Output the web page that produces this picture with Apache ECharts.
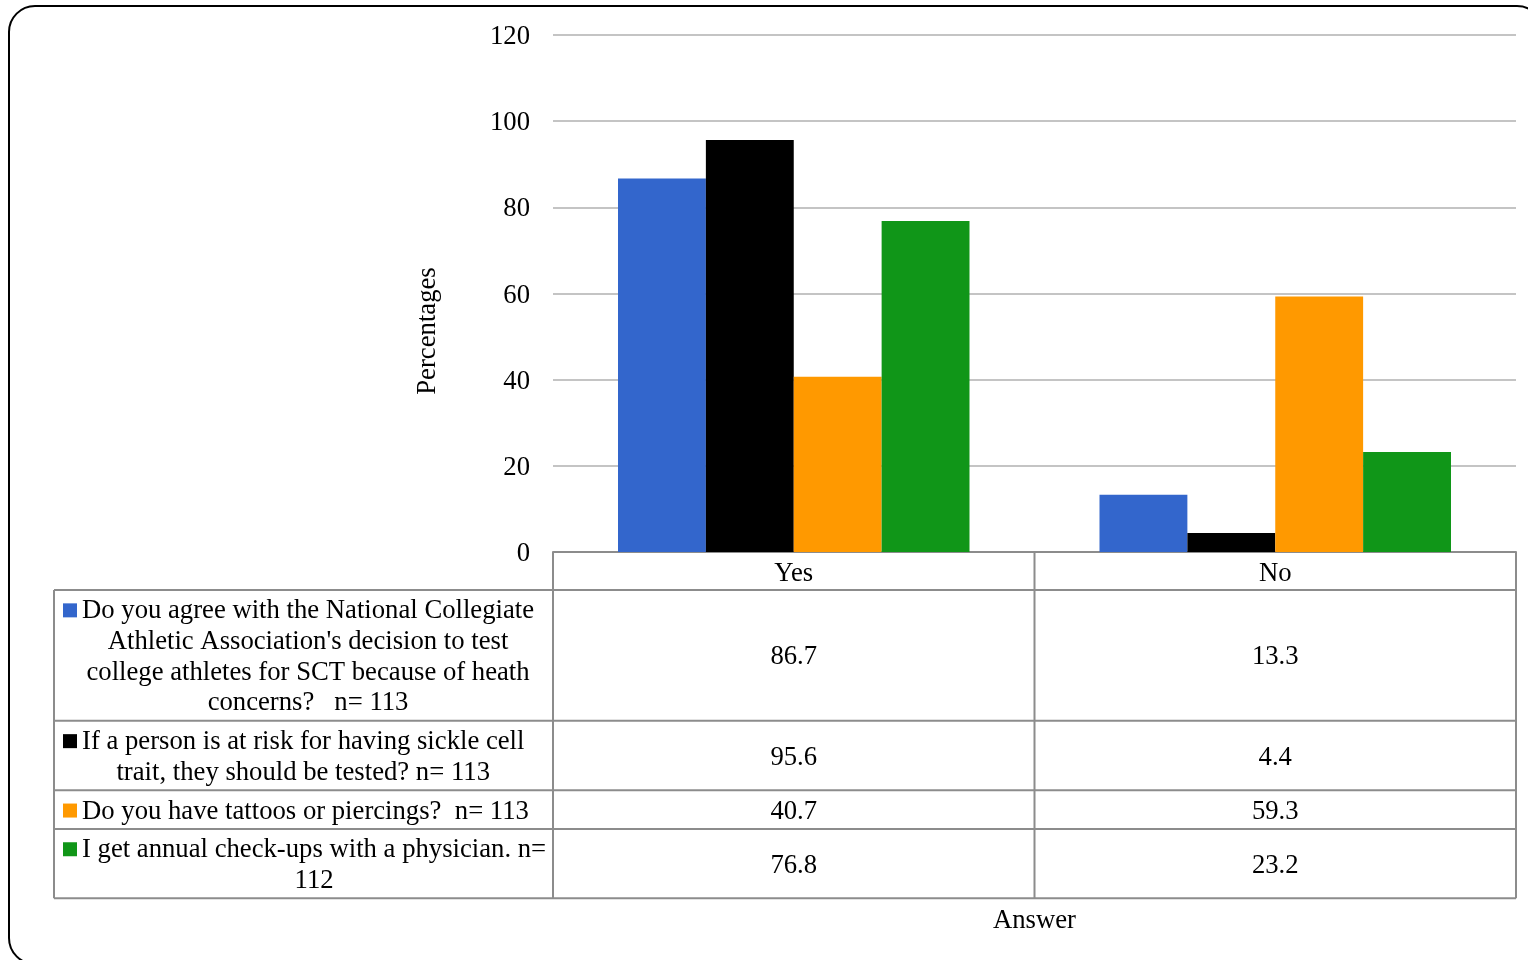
<!DOCTYPE html>
<html>
<head>
<meta charset="utf-8">
<style>
  html, body { margin: 0; padding: 0; background: #fff; }
  #chart { width: 1528px; height: 960px; }
</style>
<script src="https://cdn.jsdelivr.net/npm/echarts@6/dist/echarts.min.js"></script>
</head>
<body>
<div id="chart"></div>
<script>
// Answer categories
const categories = ['Yes', 'No'];

// Survey questions, one per series, split into the lines shown in the data table
const questionLines = [
  ['Do you agree with the National Collegiate', "Athletic Association's decision to test", 'college athletes for SCT because of heath', 'concerns?   n= 113'],
  ['If a person is at risk for having sickle cell', 'trait, they should be tested? n= 113'],
  ['Do you have tattoos or piercings?  n= 113'],
  ['I get annual check-ups with a physician. n=', '112']
];

// Percentages per answer (Yes, No)
const agreeNcaaTesting = [86.7, 13.3];
const testIfAtRisk = [95.6, 4.4];
const tattoosPiercings = [40.7, 59.3];
const annualCheckups = [76.8, 23.2];

// Value axis ticks
const yMin = 0;
const yMax = 120;
const yStep = 20;

const seriesValues = [agreeNcaaTesting, testIfAtRisk, tattoosPiercings, annualCheckups];
const palette = ['#3366CC', '#000000', '#FF9900', '#109618'];

const FONT = '"Liberation Serif", "Times New Roman", serif';
const FS = 26.7;
const TABLE_LINE = '#8c8c8c';
const TEXT_DY = 2; // nudge for the serif font's optical centre

const chart = echarts.init(document.getElementById('chart'), null, { renderer: 'canvas' });

const option = {
  backgroundColor: '#ffffff',
  animation: false,
  grid: { left: 553, right: 12, top: 35, bottom: 408, containLabel: false },
  xAxis: {
    type: 'category',
    data: categories,
    axisTick: { show: false },
    axisLine: { show: true, lineStyle: { color: TABLE_LINE, width: 2 } },
    axisLabel: { margin: 8, color: '#000', fontFamily: FONT, fontSize: FS },
    name: 'Answer',
    nameLocation: 'middle',
    nameGap: 355,
    nameTextStyle: { color: '#000', fontFamily: FONT, fontSize: FS }
  },
  yAxis: {
    type: 'value',
    min: yMin,
    max: yMax,
    interval: yStep,
    axisLine: { show: false },
    axisTick: { show: false },
    axisLabel: {
      margin: 23,
      formatter: '{t|{value}}',
      rich: { t: { color: '#000', fontFamily: FONT, fontSize: FS, padding: [4, 0, 0, 0] } }
    },
    splitLine: { show: true, lineStyle: { color: '#c4c4c4', width: 2 } }
  },
  series: seriesValues.map((vals, i) => ({
    type: 'bar',
    name: questionLines[i].join(' '),
    data: vals,
    barGap: '0%',
    barCategoryGap: '27%',
    itemStyle: { color: palette[i] }
  }))
};

chart.setOption(option);

// Data table, legend keys, axis title and frame, placed from the grid's own rect
function drawExtras() {
  const rect = chart.getModel().getComponent('grid', 0).coordinateSystem.getRect();
  const gx0 = rect.x;
  const gx1 = rect.x + rect.width;
  const y0 = chart.convertToPixel({ yAxisIndex: 0 }, 0);
  const colW = rect.width / categories.length;
  const tableLeft = 54;
  const headerH = 38;
  const lineH = 30.7;
  const pad = 8;
  const keySize = 14;
  const keyX = tableLeft + 9;
  const textX = tableLeft + 28;

  const measure = document.createElement('canvas').getContext('2d');
  measure.font = FS + 'px ' + FONT;

  const els = [];
  const lineSeg = (x1, y1, x2, y2) => els.push({
    type: 'line', silent: true, z: 10,
    shape: { x1, y1, x2, y2 },
    style: { stroke: TABLE_LINE, lineWidth: 2 }
  });
  const text = (x, y, str, align) => els.push({
    type: 'text', silent: true, z: 11, x, y: y + TEXT_DY,
    style: { text: str, fill: '#000', font: FS + 'px ' + FONT, align: align || 'center', verticalAlign: 'middle' }
  });

  // rows
  const rowTops = [];
  let y = y0 + headerH;
  questionLines.forEach(lines => {
    rowTops.push(y);
    y += lines.length * lineH + pad;
  });
  const tableBottom = y;

  // horizontal rules
  lineSeg(tableLeft, y0 + headerH, gx1, y0 + headerH);
  questionLines.forEach((lines, i) => {
    const bottom = rowTops[i] + lines.length * lineH + pad;
    lineSeg(tableLeft, bottom, gx1, bottom);
  });
  // vertical rules
  lineSeg(tableLeft, y0 + headerH, tableLeft, tableBottom);
  for (let c = 0; c <= categories.length; c++) {
    const x = gx0 + c * colW;
    lineSeg(x, y0, x, tableBottom);
  }

  // row labels with legend keys, and values
  questionLines.forEach((lines, i) => {
    const top = rowTops[i];
    const h = lines.length * lineH + pad;
    const firstY = top + h / 2 - (lines.length - 1) * lineH / 2;
    const blockW = Math.max.apply(null, lines.map(l => measure.measureText(l).width));
    const blockCx = textX + blockW / 2;
    els.push({
      type: 'rect', silent: true, z: 11,
      shape: { x: keyX, y: firstY - keySize / 2 + 1, width: keySize, height: keySize },
      style: { fill: palette[i] }
    });
    lines.forEach((ln, k) => {
      text(blockCx, firstY + k * lineH, ln, 'center');
    });
    seriesValues[i].forEach((v, c) => {
      text(gx0 + (c + 0.5) * colW, top + h / 2, v.toFixed(1), 'center');
    });
  });

  // value axis title
  els.push({
    type: 'text', silent: true, z: 11, x: 428, y: 331, rotation: Math.PI / 2,
    style: { text: 'Percentages', fill: '#000', font: FS + 'px ' + FONT, align: 'center', verticalAlign: 'middle' }
  });

  // rounded outer frame
  els.push({
    type: 'rect', silent: true, z: 12,
    shape: { x: 9, y: 6, width: 1534, height: 958, r: 26 },
    style: { fill: null, stroke: '#000', lineWidth: 2 }
  });

  chart.setOption({ graphic: { elements: els } });
}

drawExtras();
</script>
</body>
</html>
